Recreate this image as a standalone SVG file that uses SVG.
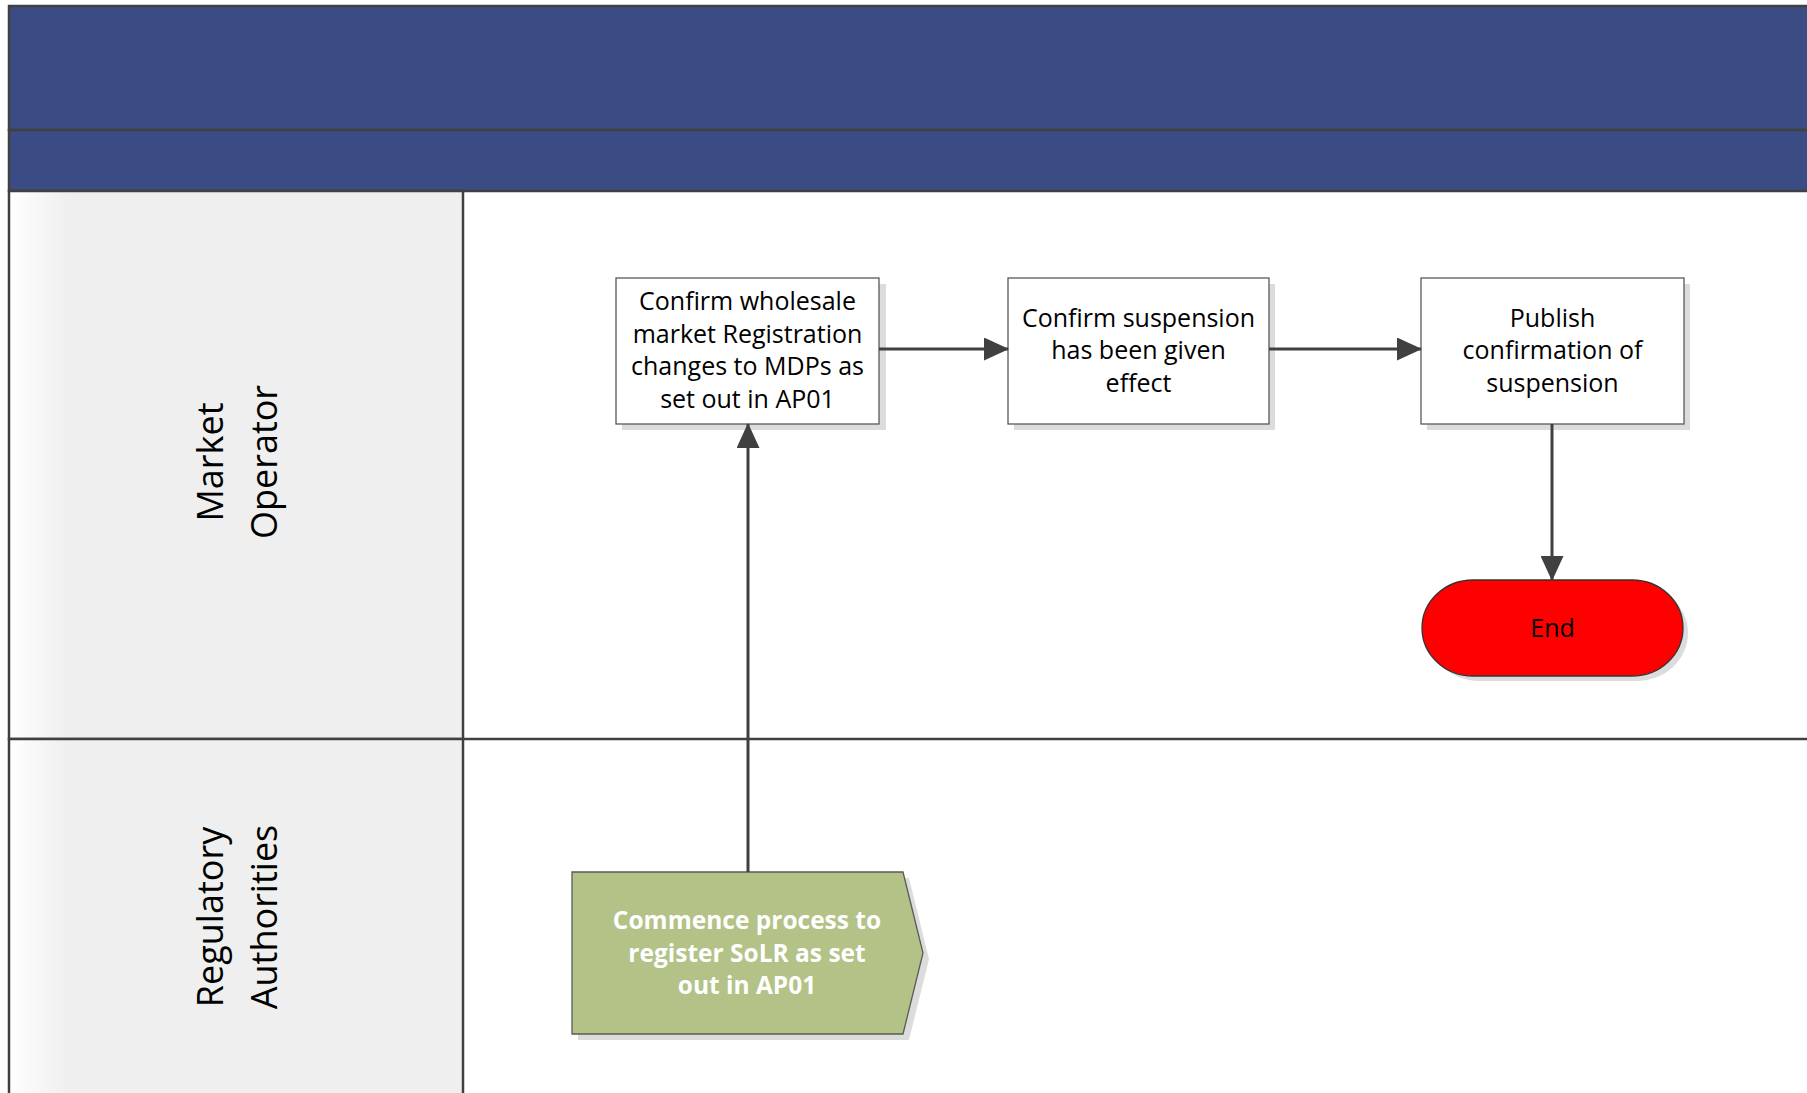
<svg xmlns="http://www.w3.org/2000/svg" width="1807" height="1093" viewBox="0 0 1807 1093">
  <defs>
    <linearGradient id="laneGrad" x1="0" y1="0" x2="1" y2="0" gradientUnits="objectBoundingBox">
      <stop offset="0" stop-color="#ffffff"/>
      <stop offset="0.13" stop-color="#efefef"/>
      <stop offset="1" stop-color="#efefef"/>
    </linearGradient>
    <marker id="arrow" viewBox="0 0 25 23" refX="24" refY="11.5" markerWidth="25" markerHeight="23" markerUnits="userSpaceOnUse" orient="auto">
      <path d="M0,0 L25,11.5 L0,23 z" fill="#404040"/>
    </marker>
    <style>
      .hdr { fill: #3b4c84; stroke: #404040; stroke-width: 2.5; }
      .lanehead { fill: url(#laneGrad); stroke: #404040; stroke-width: 2.5; }
      .line { stroke: #404040; stroke-width: 2.5; fill: none; }
      .box { fill: #ffffff; stroke: #5a5a5a; stroke-width: 1.3; }
      .shadow { fill: #dcdcdc; }
      .lbl { font-family: "Open Sans", "Noto Sans", sans-serif; font-size: 36px; fill: #000000; text-anchor: middle; }
      .txt { font-family: "Open Sans", "Noto Sans", sans-serif; font-size: 25px; fill: #000000; text-anchor: middle; }
      .wtxt { font-family: "Open Sans", "Noto Sans", sans-serif; font-size: 24.5px; font-weight: bold; fill: #ffffff; text-anchor: middle; }
      .conn { stroke: #404040; stroke-width: 3; fill: none; marker-end: url(#arrow); }
    </style>
  </defs>

  <rect x="0" y="0" width="1807" height="1093" fill="#ffffff"/>

  <g id="pool">
    <rect class="hdr" x="9" y="6" width="1810" height="124"/>
    <rect class="hdr" x="9" y="130" width="1810" height="61"/>
    <rect class="lanehead" x="9" y="191" width="454" height="548"/>
    <rect class="lanehead" x="9" y="739" width="454" height="370"/>
    <line class="line" x1="463" y1="739" x2="1810" y2="739"/>
  </g>

  <g id="lane-market-operator">
    <text class="lbl" transform="translate(223,462) rotate(-90)">Market</text>
    <text class="lbl" transform="translate(277,462) rotate(-90)">Operator</text>
  </g>
  <g id="lane-regulatory-authorities">
    <text class="lbl" transform="translate(223,917) rotate(-90)">Regulatory</text>
    <text class="lbl" transform="translate(277,917) rotate(-90)">Authorities</text>
  </g>

  <g id="node-confirm-wholesale">
    <rect class="shadow" x="622" y="284" width="264" height="146"/>
    <rect class="box" x="616" y="278" width="263" height="146"/>
    <text class="txt" x="747.5" y="310">Confirm wholesale</text>
    <text class="txt" x="747.5" y="343">market Registration</text>
    <text class="txt" x="747.5" y="375">changes to MDPs as</text>
    <text class="txt" x="747.5" y="408">set out in AP01</text>
  </g>

  <g id="node-confirm-suspension">
    <rect class="shadow" x="1014" y="284" width="261" height="146"/>
    <rect class="box" x="1008" y="278" width="261" height="146"/>
    <text class="txt" x="1138.5" y="327">Confirm suspension</text>
    <text class="txt" x="1138.5" y="359">has been given</text>
    <text class="txt" x="1138.5" y="392">effect</text>
  </g>

  <g id="node-publish">
    <rect class="shadow" x="1427" y="284" width="263" height="146"/>
    <rect class="box" x="1421" y="278" width="263" height="146"/>
    <text class="txt" x="1552.5" y="327">Publish</text>
    <text class="txt" x="1552.5" y="359">confirmation of</text>
    <text class="txt" x="1552.5" y="392">suspension</text>
  </g>

  <g id="node-end">
    <path class="shadow" d="M1479,585 L1637,585 A51,48 0 0 1 1637,681 L1479,681 A51,48 0 0 1 1479,585 z"/>
    <path d="M1473,580 L1632,580 A51,48 0 0 1 1632,676 L1473,676 A51,48 0 0 1 1473,580 z" fill="#ff0000" stroke="#333333" stroke-width="1.3"/>
    <text class="txt" x="1552.5" y="637">End</text>
  </g>

  <g id="node-commence">
    <path class="shadow" d="M578,878 L909,878 L929,959 L909,1040 L578,1040 z"/>
    <path d="M572,872 L903,872 L923,953 L903,1034 L572,1034 z" fill="#b3c287" stroke="#5a5a5a" stroke-width="1.3"/>
    <text class="wtxt" x="747" y="929">Commence process to</text>
    <text class="wtxt" x="747" y="962">register SoLR as set</text>
    <text class="wtxt" x="747" y="994">out in AP01</text>
  </g>

  <g id="connectors">
    <path class="conn" d="M879,349 L1008,349"/>
    <path class="conn" d="M1269,349 L1421,349"/>
    <path class="conn" d="M1552,424 L1552,580"/>
    <path class="conn" d="M748,872 L748,424"/>
  </g>
</svg>
